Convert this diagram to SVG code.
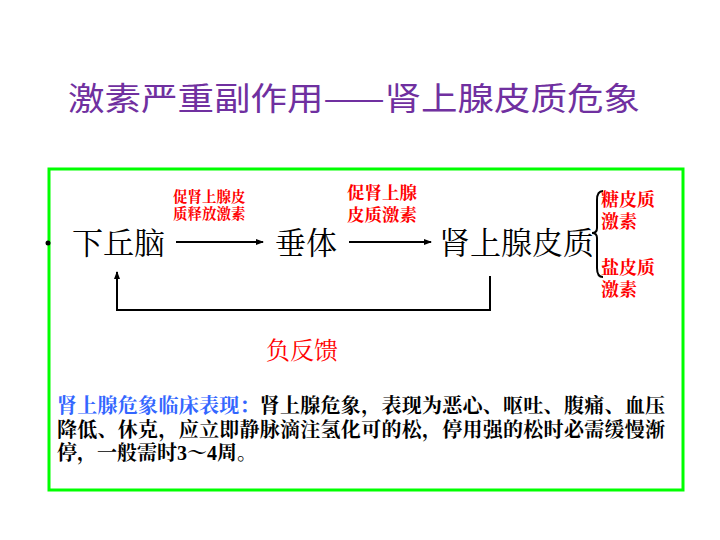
<svg xmlns="http://www.w3.org/2000/svg" width="720" height="540" viewBox="0 0 720 540">
<style>
.t{font-family:"Noto Sans CJK SC",sans-serif}
.s{font-family:"Liberation Serif","Noto Serif CJK SC","Noto Sans CJK SC",serif}
.red{fill:#ff0000;font-weight:bold}
.ln{stroke:#000;stroke-width:2;fill:none}
</style>
<defs><marker id="a" markerWidth="8" markerHeight="8" refX="7" refY="4" orient="auto" markerUnits="userSpaceOnUse"><path d="M0,1 L8,4 L0,7 Z" fill="#000"/></marker></defs>
<rect width="720" height="540" fill="#fff"/>
<text class="t" x="68" y="110" font-size="32" fill="#7030a0" textLength="572" lengthAdjust="spacingAndGlyphs">激素严重副作用——肾上腺皮质危象</text>
<rect x="49" y="169" width="634" height="321" fill="none" stroke="#00ff00" stroke-width="3"/>
<circle cx="48" cy="243" r="2.5" fill="#000"/>
<g id="n1"><text class="s" x="72" y="254" font-size="31">下丘脑</text></g>
<g id="n2"><text class="s" x="275" y="254" font-size="31">垂体</text></g>
<g id="n3"><text class="s" x="439" y="254" font-size="31">肾上腺皮质</text></g>
<g id="connectors">
<line class="ln" x1="176" y1="242" x2="263" y2="242" marker-end="url(#a)"/>
<line class="ln" x1="349" y1="242" x2="431" y2="242" marker-end="url(#a)"/>
<path class="ln" d="M490,276 V310 H117 V272" marker-end="url(#a)"/>
<path class="ln" stroke-width="1.5" d="M603,191 Q597,191 597,200 V228 Q597,233 592,233 Q597,233 597,238 V268 Q597,277 603,277"/>
</g>
<g id="labels" class="s red">
<text x="173" y="202" font-size="14.5">促肾上腺皮</text>
<text x="173" y="219" font-size="14.5">质释放激素</text>
<text x="347" y="199" font-size="17.5">促肾上腺</text>
<text x="347" y="221" font-size="17.5">皮质激素</text>
<text x="601" y="206" font-size="18">糖皮质</text>
<text x="601" y="228" font-size="18">激素</text>
<text x="601" y="274" font-size="18">盐皮质</text>
<text x="601" y="296" font-size="18">激素</text>
<text x="266" y="359" font-size="24" font-weight="normal">负反馈</text>
</g>
<g class="s" font-size="20" font-weight="bold">
<text x="57" y="413" textLength="608"><tspan fill="#3366ff">肾上腺危象临床表现：</tspan><tspan fill="#000">肾上腺危象，表现为恶心、呕吐、腹痛、血压</tspan></text>
<text x="57" y="437" textLength="608">降低、休克，应立即静脉滴注氢化可的松，停用强的松时必需缓慢渐</text>
<text x="57" y="460">停，一般需时3～4周。</text>
</g>
</svg>
